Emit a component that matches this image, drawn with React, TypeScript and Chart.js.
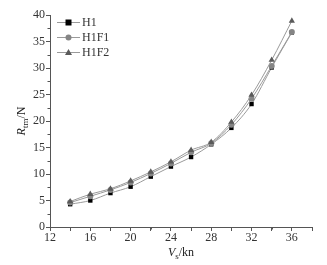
import React, { useEffect, useRef } from "react";
import { Chart, registerables } from "chart.js";

Chart.register(...registerables);

const speeds = [14, 16, 18, 20, 22, 24, 26, 28, 30, 32, 34, 36];
const seriesH1 = [4.3, 5.0, 6.4, 7.6, 9.5, 11.4, 13.2, 15.6, 18.7, 23.2, 30.1, 36.7];
const seriesH1F1 = [4.6, 5.8, 7.0, 8.4, 10.1, 12.0, 14.1, 15.8, 19.3, 24.2, 30.4, 36.8];
const seriesH1F2 = [4.8, 6.2, 7.2, 8.7, 10.4, 12.3, 14.5, 16.0, 19.8, 24.9, 31.5, 38.9];
const seriesLabels = ["H1", "H1F1", "H1F2"];
const FONT = "'Liberation Serif', 'Times New Roman', serif";

const extrasPlugin = {
  id: "extras",
  afterDraw(chart: any) {
    const ctx = chart.ctx;
    const x = chart.scales.x;
    const y = chart.scales.y;
    const area = chart.chartArea;
    ctx.save();
    ctx.strokeStyle = "#555";
    ctx.lineWidth = 1;
    for (let v = 14; v <= 38; v += 4) {
      const px = Math.round(x.getPixelForValue(v)) + 0.5;
      ctx.beginPath();
      ctx.moveTo(px, area.bottom);
      ctx.lineTo(px, area.bottom + 2.5);
      ctx.stroke();
    }
    for (let v = 2.5; v < 40; v += 5) {
      const py = Math.round(y.getPixelForValue(v)) + 0.5;
      ctx.beginPath();
      ctx.moveTo(area.left, py);
      ctx.lineTo(area.left - 2.5, py);
      ctx.stroke();
    }
    ctx.fillStyle = "#222";
    ctx.textBaseline = "alphabetic";
    const cx = (area.left + area.right) / 2;
    const ty = 256;
    ctx.font = `italic 12px ${FONT}`;
    const wV = ctx.measureText("V").width;
    ctx.font = `9px ${FONT}`;
    const ws = ctx.measureText("s").width;
    ctx.font = `12px ${FONT}`;
    const wk = ctx.measureText("/kn").width;
    let sx = cx - (wV + ws + wk) / 2;
    ctx.textAlign = "left";
    ctx.font = `italic 12px ${FONT}`;
    ctx.fillText("V", sx, ty);
    ctx.font = `9px ${FONT}`;
    ctx.fillText("s", sx + wV, ty + 3);
    ctx.font = `12px ${FONT}`;
    ctx.fillText("/kn", sx + wV + ws, ty);
    ctx.translate(25, (area.top + area.bottom) / 2);
    ctx.rotate(-Math.PI / 2);
    ctx.font = `italic 12px ${FONT}`;
    const wR = ctx.measureText("R").width;
    ctx.font = `9px ${FONT}`;
    const wtm = ctx.measureText("tm").width;
    ctx.font = `12px ${FONT}`;
    const wN = ctx.measureText("/N").width;
    sx = -(wR + wtm + wN) / 2;
    ctx.font = `italic 12px ${FONT}`;
    ctx.fillText("R", sx, 0);
    ctx.font = `9px ${FONT}`;
    ctx.fillText("tm", sx + wR, 3);
    ctx.font = `12px ${FONT}`;
    ctx.fillText("/N", sx + wR + wtm, 0);
    ctx.restore();

    ctx.save();
    chart.data.datasets.forEach((ds: any, i: number) => {
      const ly = 22 + i * 15;
      ctx.strokeStyle = ds.borderColor;
      ctx.lineWidth = 1;
      ctx.beginPath();
      ctx.moveTo(57, ly + 0.5);
      ctx.lineTo(80, ly + 0.5);
      ctx.stroke();
      ctx.fillStyle = ds.pointBackgroundColor;
      ctx.beginPath();
      if (ds.pointStyle === "rect") {
        ctx.rect(65.5, ly - 2.5, 6, 6);
      } else if (ds.pointStyle === "circle") {
        ctx.arc(68.5, ly + 0.5, 3, 0, Math.PI * 2);
      } else {
        ctx.moveTo(68.5, ly - 3);
        ctx.lineTo(72, ly + 3);
        ctx.lineTo(65, ly + 3);
        ctx.closePath();
      }
      ctx.fill();
      ctx.fillStyle = "#333";
      ctx.font = `12px ${FONT}`;
      ctx.textAlign = "left";
      ctx.textBaseline = "middle";
      ctx.fillText(ds.label, 82, ly + 1);
    });
    ctx.restore();
  },
};

export default function App() {
  const ref = useRef<HTMLCanvasElement | null>(null);
  useEffect(() => {
    if (!ref.current) return;
    const mk = (label: string, data: number[], style: string, color: string, order: number, radius: number) => ({
      label,
      data: speeds.map((s, i) => ({ x: s, y: data[i] })),
      borderColor: "#9a9a9a",
      borderWidth: 1,
      pointStyle: style,
      pointRadius: radius,
      pointBackgroundColor: color,
      pointBorderColor: color,
      pointBorderWidth: 0,
      cubicInterpolationMode: "monotone",
      order,
    });
    const chart = new Chart(ref.current, {
      type: "line",
      data: {
        datasets: [
          mk(seriesLabels[0], seriesH1, "rect", "#000000", 2, 3.1),
          mk(seriesLabels[1], seriesH1F1, "circle", "#858585", 1, 3),
          mk(seriesLabels[2], seriesH1F2, "triangle", "#5a5a5a", 0, 3.6),
        ] as any,
      },
      options: {
        animation: false,
        responsive: false,
        devicePixelRatio: 1,
        layout: { padding: { left: 0, top: 15, right: 15, bottom: 0 } },
        plugins: { legend: { display: false }, tooltip: { enabled: false } },
        scales: {
          x: {
            type: "linear",
            min: 12,
            max: 38,
            afterFit: (s: any) => { s.height = 38; },
            border: { color: "#555", width: 1 },
            grid: { display: true, drawOnChartArea: false, tickLength: 4, color: "#555" },
            ticks: {
              stepSize: 2,
              autoSkip: false,
              maxRotation: 0,
              padding: 0,
              color: "#333",
              font: { family: FONT, size: 12 },
              callback: (v: any) => (v % 4 === 0 && v <= 36 ? String(v) : ""),
            },
          },
          y: {
            min: 0,
            max: 40,
            afterFit: (s: any) => { s.width = 50; },
            border: { color: "#555", width: 1 },
            grid: { display: true, drawOnChartArea: false, tickLength: 4, color: "#555" },
            ticks: {
              stepSize: 5,
              padding: 1,
              color: "#333",
              font: { family: FONT, size: 12 },
            },
          },
        },
      } as any,
      plugins: [extrasPlugin],
    });
    return () => chart.destroy();
  }, []);
  return (
    <div style={{ position: "fixed", left: 0, top: 0, width: 327, height: 265, background: "#fff" }}>
      <canvas ref={ref} width={327} height={265} style={{ width: 327, height: 265 }} />
    </div>
  );
}
